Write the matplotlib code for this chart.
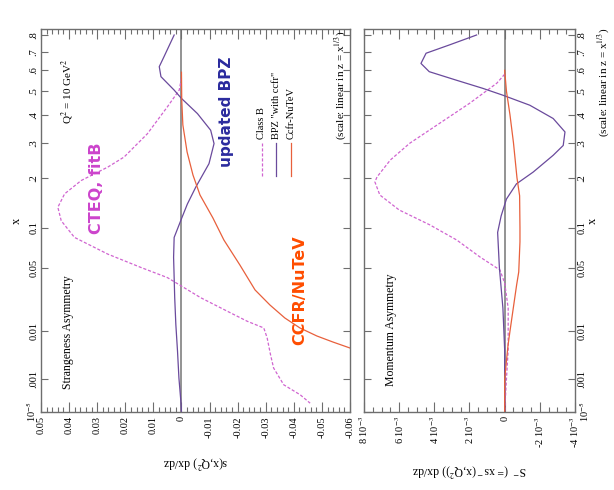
import matplotlib
matplotlib.use("Agg")
import matplotlib.pyplot as plt
import numpy as np
from matplotlib.ticker import FixedLocator, MultipleLocator

plt.rcParams['font.family'] = ['Liberation Serif', 'DejaVu Serif']
plt.rcParams['mathtext.fontset'] = 'stix'

# x axis, drawn linear in z = x^(1/3)
x_ticks = [1e-5, 0.001, 0.01, 0.05, 0.1, 0.2, 0.3, 0.4, 0.5, 0.6, 0.7, 0.8]
x_tick_labels = ["10$^{-5}$", ".001", "0.01", "0.05", "0.1", ".2", ".3", ".4",
                 ".5", ".6", ".7", ".8"]

# strangeness asymmetry  s(x,Q^2) dx/dz
s_ticks = [0.05, 0.04, 0.03, 0.02, 0.01, 0.0, -0.01, -0.02, -0.03, -0.04, -0.05, -0.06]
s_tick_labels = ["0.05", "0.04", "0.03", "0.02", "0.01", "0", "-0.01", "-0.02",
                 "-0.03", "-0.04", "-0.05", "-0.06"]

classB_x = [0.56, 0.504, 0.4315, 0.330, 0.256, 0.2278, 0.1934, 0.163, 0.1358,
            0.1117, 0.0861, 0.0646, 0.0503, 0.041, 0.033, 0.0261, 0.0184,
            0.0138, 0.0112, 0.0080, 0.00406, 0.00207, 0.00066, 0.000248, 0.0000784]
classB_s = [0.0, 0.0008, 0.0050, 0.0121, 0.0204, 0.0262, 0.0357, 0.0416, 0.0440,
            0.0428, 0.0381, 0.0262, 0.0144, 0.0050, -0.0009, -0.0068, -0.0163,
            -0.0234, -0.0293, -0.0305, -0.0317, -0.0328, -0.0364, -0.0423, -0.0458]

bpz_x = [0.80, 0.673, 0.619, 0.568, 0.504, 0.467, 0.404, 0.342, 0.297, 0.237,
         0.178, 0.142, 0.115, 0.086, 0.061, 0.041, 0.026, 0.0125, 0.0047,
         0.0011, 0.0001, 0.00001]
bpz_s = [0.0026, 0.0062, 0.0079, 0.0073, 0.0026, 0.0, -0.0057, -0.0104, -0.0116,
         -0.0098, -0.0051, -0.0021, 0.0, 0.0026, 0.0028, 0.0026, 0.0024, 0.0020,
         0.0014, 0.0009, 0.0002, 0.0]

nutev_x = [0.59, 0.46, 0.361, 0.271, 0.207, 0.1606, 0.1164, 0.0825, 0.0528,
           0.0313, 0.0217, 0.0152, 0.01118, 0.00854, 0.00685, 0.0054, 0.00477]
nutev_s = [0.0, -0.0001, -0.0005, -0.0020, -0.0041, -0.0066, -0.0112, -0.0151,
           -0.0208, -0.0262, -0.0315, -0.0368, -0.0422, -0.0482, -0.0539, -0.0600,
           -0.0635]

# momentum asymmetry  S- (= x s-(x,Q^2)) dx/dz
m_ticks = [8e-3, 6e-3, 4e-3, 2e-3, 0.0, -2e-3, -4e-3]
m_tick_labels = ["8 10$^{-3}$", "6 10$^{-3}$", "4 10$^{-3}$", "2 10$^{-3}$", "0",
                 "-2 10$^{-3}$", "-4 10$^{-3}$"]

classB_mx = [0.58, 0.536, 0.4458, 0.367, 0.298, 0.2474, 0.2022, 0.190, 0.1606,
             0.1307, 0.1048, 0.0825, 0.0613, 0.0479, 0.0366, 0.02, 0.005, 0.001,
             0.00001]
classB_m = [0.0, 0.00045, 0.0020, 0.0037, 0.0054, 0.0065, 0.00726, 0.00738,
            0.0071, 0.0060, 0.00425, 0.00273, 0.0014, 0.00027, 0.0, -0.0002,
            -0.0002, -0.0001, 0.0]

bpz_mx = [0.80, 0.740, 0.692, 0.636, 0.593, 0.551, 0.512, 0.481, 0.438, 0.385,
          0.336, 0.291, 0.261, 0.2145, 0.1855, 0.152, 0.120, 0.0933, 0.05, 0.02,
          0.005, 0.00001]
bpz_m = [0.0016, 0.00314, 0.00447, 0.00476, 0.00429, 0.00276, 0.00124, 0.0001,
         -0.00143, -0.00276, -0.00343, -0.00333, -0.00276, -0.00162, -0.00067,
         -0.0001, 0.0002, 0.0004, 0.0003, 0.0001, 0.0, 0.0]

nutev_mx = [0.6, 0.5, 0.4, 0.3, 0.2, 0.159, 0.1, 0.08, 0.046, 0.035, 0.02, 0.01,
            0.006, 0.003, 0.001, 0.00001]
nutev_m = [0.0, -0.0001, -0.0003, -0.0005, -0.0007, -0.00085, -0.00087, -0.00087,
           -0.0008, -0.00068, -0.00049, -0.0003, -0.00019, -0.0001, 0.0, 0.0]

c_classB = '#d064d0'
c_bpz = '#6a4a9c'
c_nutev = '#e8603c'
c_zero = '#8a8a8a'
c_frame = '#6e6e6e'


def z(x):
    return np.asarray(x, dtype=float) ** (1.0 / 3.0)


def style_axes(ax, ticks, labels, minor):
    ax.set_ylim(z(1e-5), z(0.838))
    ax.yaxis.set_major_locator(FixedLocator(z(x_ticks)))
    ax.set_yticklabels(x_tick_labels, rotation=90, va='center', fontsize=7.5)
    ax.xaxis.set_major_locator(FixedLocator(ticks))
    ax.xaxis.set_minor_locator(MultipleLocator(minor))
    ax.set_xticklabels(labels, rotation=90, fontsize=7.5)
    ax.tick_params(which='both', direction='in', top=True, bottom=True,
                   left=True, right=True, color=c_frame, width=0.8)
    ax.tick_params(axis='x', which='major', length=7, pad=3)
    ax.tick_params(axis='x', which='minor', length=3.5)
    ax.tick_params(axis='y', which='major', length=5, pad=2)
    for sp in ax.spines.values():
        sp.set_color(c_frame)
        sp.set_linewidth(1.0)
    ax.axvline(0, color=c_zero, lw=1.3, zorder=1)


fig = plt.figure(figsize=(6.14, 4.9), dpi=100)
ax1 = fig.add_axes([41 / 614, 1 - 412 / 490, 309 / 614, 383 / 490])
ax2 = fig.add_axes([364 / 614, 1 - 412 / 490, 211 / 614, 383 / 490])

# strangeness asymmetry panel
ax1.set_xlim(0.05, -0.06)
style_axes(ax1, s_ticks, s_tick_labels, 0.002)
ax1.plot(classB_s, z(classB_x), color=c_classB, lw=0.9, ls=(0, (2.5, 1.5)))
ax1.plot(bpz_s, z(bpz_x), color=c_bpz, lw=0.9)
ax1.plot(nutev_s, z(nutev_x), color=c_nutev, lw=0.9)
ax1.set_xlabel("s(x,Q$^2$) dx/dz", rotation=180, fontsize=8.5, labelpad=12)
ax1.set_ylabel("x", rotation=90, fontsize=9, labelpad=1)

ax1.text(0.181, 0.585, "CTEQ, fitB", rotation=90, color='#cc44cc',
         fontsize=11.5, fontweight='bold', family='DejaVu Sans',
         ha='center', va='center', transform=ax1.transAxes)
ax1.text(0.599, 0.783, "updated BPZ", rotation=90, color='#2b2b9e',
         fontsize=11, fontweight='bold', family='DejaVu Sans',
         ha='center', va='center', transform=ax1.transAxes)
ax1.text(0.838, 0.319, "CCFR/NuTeV", rotation=90, color='#ff4d00',
         fontsize=11.5, fontweight='bold', family='DejaVu Sans',
         ha='center', va='center', transform=ax1.transAxes)
ax1.text(0.087, 0.836, "Q$^2$ = 10 GeV$^2$", rotation=90, fontsize=8,
         ha='center', va='center', transform=ax1.transAxes)
ax1.text(0.087, 0.209, "Strangeness Asymmetry", rotation=90, fontsize=8.5,
         ha='center', va='center', transform=ax1.transAxes)
ax1.text(0.968, 0.995, "(scale: linear in z = x$^{1/3}$)", rotation=90,
         fontsize=8, ha='center', va='top', transform=ax1.transAxes)

# legend drawn upright to match the rotated layout
legend_items = [("Class B", c_classB, (0, (2.5, 1.5))),
                ('BPZ "with ccfr"', c_bpz, '-'),
                ("Ccfr-NuTeV", c_nutev, '-')]
for i, (name, col, ls) in enumerate(legend_items):
    lx = 0.715 + 0.047 * i
    ax1.plot([lx, lx], [0.616, 0.702], color=col, ls=ls, lw=0.9,
             transform=ax1.transAxes)
    ax1.text(lx, 0.712, name, rotation=90, fontsize=7.5, ha='center',
             va='bottom', transform=ax1.transAxes)

# momentum asymmetry panel
ax2.set_xlim(8e-3, -4e-3)
style_axes(ax2, m_ticks, m_tick_labels, 0.0005)
ax2.tick_params(axis='y', labelleft=False, labelright=True)
ax2.yaxis.set_label_position('right')
ax2.plot(classB_m, z(classB_mx), color=c_classB, lw=0.9, ls=(0, (2.5, 1.5)))
ax2.plot(bpz_m, z(bpz_mx), color=c_bpz, lw=0.9)
ax2.plot(nutev_m, z(nutev_mx), color=c_nutev, lw=0.9)
ax2.set_xlabel("S$^-$ (= xs$^-$(x,Q$^2$)) dx/dz", rotation=180, fontsize=8.5,
               labelpad=10)
ax2.set_ylabel("x", rotation=90, fontsize=9, labelpad=-3)
ax2.text(0.128, 0.214, "Momentum Asymmetry", rotation=90, fontsize=8.5,
         ha='center', va='center', transform=ax2.transAxes)
fig.text(603 / 614, 1 - 28 / 490, "(scale: linear in z = x$^{1/3}$)",
         rotation=90, fontsize=8, ha='center', va='top')

fig.savefig("out.png", dpi=100)
